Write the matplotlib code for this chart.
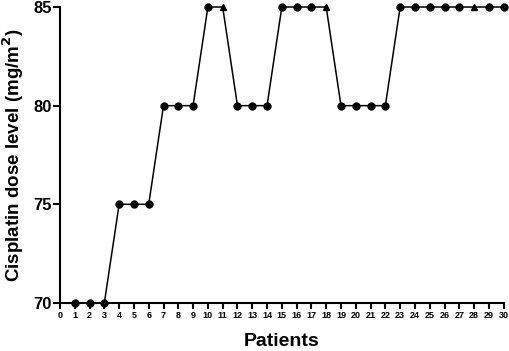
import numpy as np
import matplotlib.pyplot as plt

plt.rcParams['font.family'] = ['Liberation Sans', 'DejaVu Sans']

patients = list(range(1, 31))
dose = [70, 70, 70, 75, 75, 75, 80, 80, 80, 85,
        85, 80, 80, 80, 85, 85, 85, 85, 80, 80,
        80, 80, 85, 85, 85, 85, 85, 85, 85, 85]
triangle_patients = [11, 18, 28]

fig = plt.figure(figsize=(5.1, 3.51), dpi=100)
ax = fig.add_axes([0.1176, 0.137, 0.870, 0.843])

ax.plot(patients, dose, color='black', lw=1.1, clip_on=False, zorder=2)
circ = [(p, d) for p, d in zip(patients, dose) if p not in triangle_patients]
tri = [(p, d) for p, d in zip(patients, dose) if p in triangle_patients]
ax.plot([c[0] for c in circ], [c[1] for c in circ], 'o', color='black',
        ms=5, clip_on=False, zorder=3)
ax.plot([t[0] for t in tri], [t[1] for t in tri], '^', color='black',
        ms=5, clip_on=False, zorder=3)

ax.set_xlim(0, 30)
ax.set_ylim(70, 85)
ax.set_xticks(range(0, 31))
ax.set_yticks([70, 75, 80, 85])
for s in ['top', 'right']:
    ax.spines[s].set_visible(False)
for s in ['left', 'bottom']:
    ax.spines[s].set_linewidth(1.5)
ax.tick_params(axis='x', direction='out', length=4, width=1.5, labelsize=6.5, pad=2)
ax.tick_params(axis='y', direction='out', length=5, width=1.5, labelsize=12, pad=1)
for lbl in ax.get_xticklabels() + ax.get_yticklabels():
    lbl.set_fontweight('bold')

ax.set_xlabel('Patients', fontsize=14, fontweight='bold', labelpad=9)
ax.set_ylabel('Cisplatin dose level (mg/m$\\mathbf{^2}$)', fontsize=13.5, fontweight='bold', labelpad=5)

fig.savefig('out.png', dpi=100)
